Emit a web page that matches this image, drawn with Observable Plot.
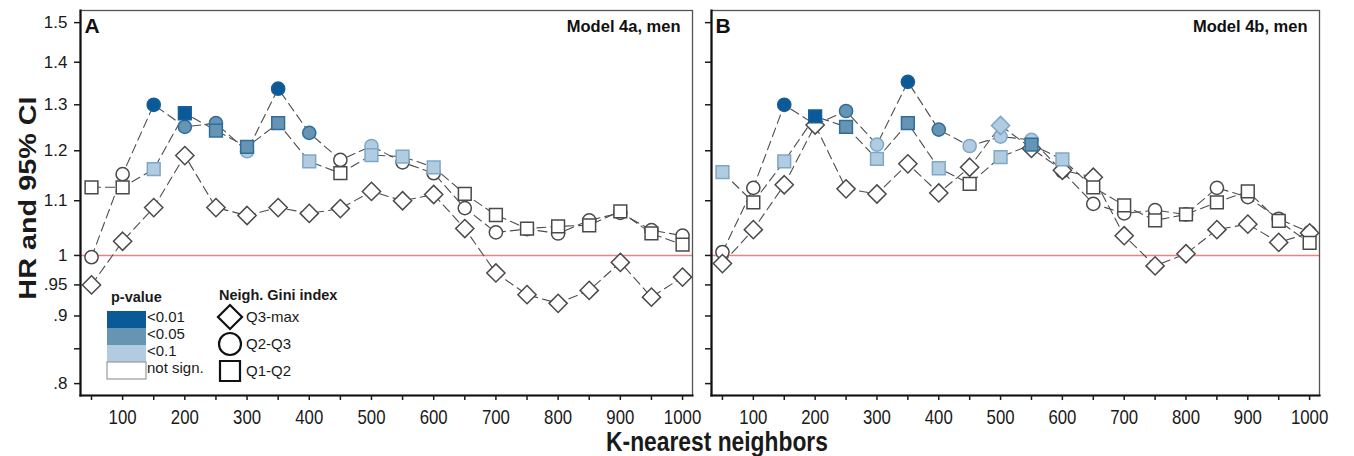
<!DOCTYPE html>
<html>
<head>
<meta charset="utf-8">
<script src="https://cdn.jsdelivr.net/npm/d3@7"></script>
<script src="https://cdn.jsdelivr.net/npm/@observablehq/plot@0.6"></script>
<style>
  body { margin: 0; background: #fff; }
  #wrap { position: relative; width: 1354px; height: 456px; overflow: hidden; font-family: "Liberation Sans", Arial, sans-serif; color: #1a1a1a; }
  .panel { position: absolute; top: 0; }
  .panel svg { background: transparent; }
  #ylab { position: absolute; left: 28px; top: 198px; transform: translate(-50%, -50%) rotate(-90deg) scale(1.2, 1); font-weight: bold; font-size: 24px; white-space: nowrap; }
  #xlab { position: absolute; left: 717px; top: 442px; transform: translate(-50%, -50%) scaleX(0.845); font-weight: bold; font-size: 27px; white-space: nowrap; }
  #legend { position: absolute; left: 0; top: 0; pointer-events: none; }
</style>
</head>
<body>
<div id="wrap">
  <div class="panel" id="pA" style="left:0"></div>
  <div class="panel" id="pB" style="left:696px"></div>
  <div id="ylab">HR and 95% CI</div>
  <div id="xlab">K-nearest neighbors</div>
</div>
<script>
// ---------- data ----------
const kValues = [50,100,150,200,250,300,350,400,450,500,550,600,650,700,750,800,850,900,950,1000];
const shapeNames = ["Q3-max", "Q2-Q3", "Q1-Q2"];
const pLevels = ["<0.01", "<0.05", "<0.1", "not sign."];
const pFill   = ["#0b5a98", "#6695b4", "#b1cce0", "#ffffff"];
const pStroke = ["#1b5e97", "#2f6e9c", "#7fa8c6", "#4a4a4a"];

const yTickValues = [0.8, 0.85, 0.9, 0.95, 1, 1.1, 1.2, 1.3, 1.4, 1.5];
const yTickLabels = [".8", "", ".9", ".95", "1", "1.1", "1.2", "1.3", "1.4", "1.5"];
const xTickAll = [50,100,150,200,250,300,350,400,450,500,550,600,650,700,750,800,850,900,950,1000];
const xTickLabeled = [100,200,300,400,500,600,700,800,900,1000];

const panelLetters = ["A", "B"];
const panelModels = ["Model 4a, men", "Model 4b, men"];

// Panel A (Model 4a)
const hrA_Q3max = [0.950,1.025,1.087,1.190,1.087,1.072,1.087,1.076,1.085,1.118,1.100,1.112,1.048,0.970,0.934,0.920,0.941,0.988,0.930,0.963];
const pA_Q3max  = ["ns","ns","ns","ns","ns","ns","ns","ns","ns","ns","ns","ns","ns","ns","ns","ns","ns","ns","ns","ns"];
const hrA_Q2Q3  = [0.997,1.152,1.300,1.251,1.259,1.199,1.337,1.238,1.181,1.210,1.176,1.154,1.086,1.041,1.047,1.039,1.063,1.077,1.045,1.035];
const pA_Q2Q3   = ["ns","ns","<0.01","<0.05","<0.05","<0.1","<0.01","<0.05","ns","<0.1","ns","ns","ns","ns","ns","ns","ns","ns","ns","ns"];
const hrA_Q1Q2  = [1.126,1.126,1.162,1.281,1.243,1.208,1.259,1.178,1.154,1.191,1.188,1.166,1.113,1.073,1.048,1.052,1.054,1.080,1.039,1.019];
const pA_Q1Q2   = ["ns","ns","<0.1","<0.01","<0.05","<0.05","<0.05","<0.1","ns","<0.1","<0.1","<0.1","ns","ns","ns","ns","ns","ns","ns","ns"];

// Panel B (Model 4b)
const hrB_Q3max = [0.986,1.046,1.131,1.255,1.123,1.113,1.173,1.115,1.166,1.254,1.205,1.160,1.146,1.035,0.982,1.003,1.046,1.056,1.023,1.040];
const pB_Q3max  = ["ns","ns","ns","ns","ns","ns","ns","ns","ns","<0.1","ns","ns","ns","ns","ns","ns","ns","ns","ns","ns"];
const hrB_Q2Q3  = [1.006,1.125,1.300,1.256,1.286,1.213,1.353,1.245,1.210,1.230,1.223,1.158,1.094,1.076,1.082,1.074,1.125,1.107,1.066,1.041];
const pB_Q2Q3   = ["ns","ns","<0.01","<0.1","<0.05","<0.1","<0.01","<0.05","<0.1","<0.1","<0.1","ns","ns","ns","ns","ns","ns","ns","ns","ns"];
const hrB_Q1Q2  = [1.156,1.097,1.178,1.274,1.251,1.183,1.259,1.164,1.133,1.187,1.213,1.182,1.126,1.091,1.063,1.074,1.097,1.118,1.062,1.022];
const pB_Q1Q2   = ["<0.1","ns","<0.1","<0.01","<0.05","<0.1","<0.05","<0.1","ns","<0.1","<0.05","<0.1","ns","ns","ns","ns","ns","ns","ns","ns"];

// ---------- helpers ----------
function rowsFor(hr, p, shape) {
  return kValues.map((k, i) => ({k, hr: hr[i], p: p[i] === "ns" ? "not sign." : p[i], shape}));
}
const fillOf = d => pFill[pLevels.indexOf(d.p)];
const strokeOf = d => pStroke[pLevels.indexOf(d.p)];

const tickFont = "Liberation Sans, Arial, sans-serif";

function makePanel(idx, series, width, ml, mr, showYText) {
  const [dia, cir, sq] = series;
  const all = [...dia, ...cir, ...sq];
  const dotOpts = {x: "k", y: "hr", fill: fillOf, stroke: strokeOf, strokeWidth: 1.5};
  return Plot.plot({
    width, height: 456,
    marginLeft: ml, marginRight: mr, marginTop: 10, marginBottom: 61,
    x: {domain: [32.3, 1016]},
    y: {type: "log", domain: [0.7836, 1.532]},
    color: {type: "identity"},
    style: {fontFamily: tickFont, fontSize: "17px", color: "#1a1a1a", background: "transparent", overflow: "visible"},
    marks: [
      Plot.ruleY([1], {stroke: "#f28080", strokeWidth: 1.6}),
      Plot.line(all, {x: "k", y: "hr", z: "shape", stroke: "#4d4d4d", strokeWidth: 1.1, strokeDasharray: "9,5"}),
      Plot.dot(cir, {...dotOpts, symbol: "circle", r: 6.6}),
      Plot.dot(dia, {...dotOpts, symbol: "diamond2", r: 8.2}),
      Plot.dot(sq, {...dotOpts, symbol: "square", r: 7.2}),
      Plot.frame({stroke: "#555", strokeWidth: 1.3}),
      Plot.frame({anchor: "left", stroke: "#111", strokeWidth: 2.2}),
      Plot.frame({anchor: "bottom", stroke: "#111", strokeWidth: 2.2}),
      Plot.axisY({ticks: yTickValues, tickSize: 6, strokeWidth: 1.5, fill: "none", label: null}),
      showYText ? Plot.axisY({ticks: yTickValues.filter((v, i) => yTickLabels[i] !== ""),
        tickFormat: v => yTickLabels[yTickValues.indexOf(v)], tickSize: 0, tickPadding: 13, fontSize: 17, label: null}) : null,
      Plot.axisX({ticks: xTickAll, tickSize: 5, strokeWidth: 1.5, fill: "none", label: null}),
      Plot.axisX({ticks: xTickLabeled, tickFormat: d => String(d), tickSize: 0, tickPadding: 14, fontSize: 21, label: null}),
      Plot.text([panelLetters[idx]], {frameAnchor: "top-left", dx: 4, dy: 8, fontSize: 21, fontWeight: "bold", fill: "#111"}),
      Plot.text([panelModels[idx]], {frameAnchor: "top-right", dx: -12, dy: 10, fontSize: 16.5, fontWeight: "bold", fill: "#111"})
    ]
  });
}

const seriesA = [rowsFor(hrA_Q3max, pA_Q3max, shapeNames[0]), rowsFor(hrA_Q2Q3, pA_Q2Q3, shapeNames[1]), rowsFor(hrA_Q1Q2, pA_Q1Q2, shapeNames[2])];
const seriesB = [rowsFor(hrB_Q3max, pB_Q3max, shapeNames[0]), rowsFor(hrB_Q2Q3, pB_Q2Q3, shapeNames[1]), rowsFor(hrB_Q1Q2, pB_Q1Q2, shapeNames[2])];

const svgA = makePanel(0, seriesA, 696, 80, 4, true);
const svgB = makePanel(1, seriesB, 658, 15, 35, false);
document.getElementById("pA").append(svgA);
document.getElementById("pB").append(svgB);

// condense x tick labels (narrow look of the original)
const xLabelStrings = xTickLabeled.map(String);
[svgA, svgB].forEach(s => {
  s.querySelectorAll("text").forEach(t => {
    const txt = (t.textContent || "").trim();
    if (!xLabelStrings.includes(txt)) return;
    const w = t.getComputedTextLength();
    if (!(w > 0)) return;
    t.setAttribute("textLength", (w * 0.8).toFixed(1));
    t.setAttribute("lengthAdjust", "spacingAndGlyphs");
  });
});

// ---------- legend (inside panel A) ----------
const svg = d3.select("#wrap").append("svg").attr("id", "legend").attr("width", 400).attr("height", 400)
  .style("font-family", tickFont).style("fill", "#1a1a1a");
svg.append("text").attr("x", 111).attr("y", 302).attr("font-weight", "bold").attr("font-size", 14.5).text("p-value");
const swY = [311, 328, 345, 362];
pLevels.forEach((lab, i) => {
  svg.append("rect").attr("x", 107).attr("y", swY[i]).attr("width", 39).attr("height", 17)
    .attr("fill", pFill[i]).attr("stroke", i === 3 ? "#9a9a9a" : "none").attr("stroke-width", 1.2);
  svg.append("text").attr("x", 147).attr("y", swY[i] + 11).attr("font-size", 15).text(lab);
});
svg.append("text").attr("x", 219).attr("y", 300).attr("font-weight", "bold").attr("font-size", 14.5).text("Neigh. Gini index");
const symY = [317, 344, 371];
const sym = [d3.symbolDiamond2, d3.symbolCircle, d3.symbolSquare];
const symSize = [370, 380, 400];
shapeNames.forEach((lab, i) => {
  svg.append("path").attr("transform", `translate(230,${symY[i]})`).attr("d", d3.symbol(sym[i], symSize[i])())
    .attr("fill", "#fff").attr("stroke", "#111").attr("stroke-width", 2.2);
  svg.append("text").attr("x", 246).attr("y", symY[i] + 5).attr("font-size", 15).text(lab);
});
</script>
</body>
</html>
